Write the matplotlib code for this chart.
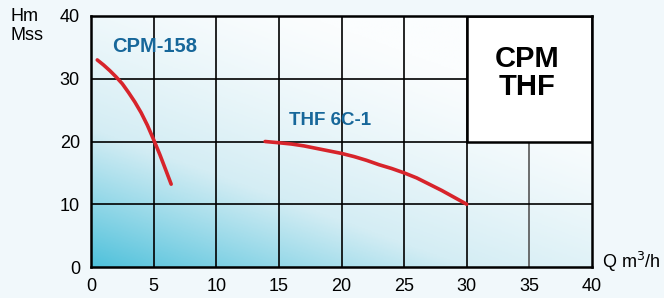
import numpy as np
import matplotlib.pyplot as plt
from matplotlib.colors import LinearSegmentedColormap
from matplotlib.patches import Rectangle

# pump curves (Q m3/h, Hm)
cpm_q = [0.5, 1.0, 1.5, 2.0, 2.5, 3.0, 3.5, 4.0, 4.5, 5.0, 5.5, 6.0, 6.4]
cpm_h = [33.0, 32.2, 31.3, 30.3, 29.2, 27.8, 26.3, 24.6, 22.6, 20.3, 17.9, 15.3, 13.2]
thf_q = [13.9, 15, 16, 17, 18, 19, 20, 21, 22, 23, 24, 25, 26, 27, 28, 29, 30]
thf_h = [20.0, 19.8, 19.6, 19.3, 18.9, 18.5, 18.1, 17.6, 17.0, 16.3, 15.7, 15.0,
         14.2, 13.2, 12.2, 11.1, 10.0]
x_ticks = [0, 5, 10, 15, 20, 25, 30, 35, 40]
y_ticks = [0, 10, 20, 30, 40]

plt.rcParams['font.family'] = ['Liberation Sans', 'DejaVu Sans']

fig = plt.figure(figsize=(6.64, 2.98), dpi=100, facecolor='#f1f8fb')
ax = fig.add_axes([91 / 664, 31 / 298, 501 / 664, 251 / 298])

# background gradient, cyan in the lower left fading to white
gx, gy = np.meshgrid(np.linspace(0, 1, 300), np.linspace(0, 1, 200))
t = np.clip(1 - (0.55 * gx + 0.75 * gy), 0, 1) ** 1.3
cmap = LinearSegmentedColormap.from_list('bg', ['#fbfdfe', '#d4edf4', '#4fc1db'])
ax.imshow(t, extent=[0, 40, 0, 40], origin='lower', cmap=cmap, vmin=0, vmax=1,
          aspect='auto', zorder=0)

# grid
for x in x_ticks[1:-1]:
    top = 20 if x == 35 else 40
    col = '#555555' if x == 35 else 'black'
    ax.plot([x, x], [0, top], color=col, lw=1.2, zorder=1)
for y in y_ticks[1:-1]:
    right = 30 if y == 30 else 40
    ax.plot([0, right], [y, y], color='black', lw=1.2, zorder=1)

# title box
ax.add_patch(Rectangle((30, 20), 10, 20, facecolor='white', edgecolor='black', lw=1.8, zorder=2))
ax.text(34.8, 30.9, 'CPM\nTHF', ha='center', va='center', fontsize=21, fontweight='bold',
        linespacing=1.0, zorder=3)

ax.plot(cpm_q, cpm_h, color='#d7242b', lw=2.6, solid_capstyle='round', zorder=4)
ax.plot(thf_q, thf_h, color='#d7242b', lw=2.6, solid_capstyle='round', zorder=4)
ax.text(5.1, 35.1, 'CPM-158', color='#17679a', fontsize=14.5, fontweight='bold',
        ha='center', va='center', zorder=4)
ax.text(19.1, 23.4, 'THF 6C-1', color='#17679a', fontsize=13.5, fontweight='bold',
        ha='center', va='center', zorder=4)

ax.set_xlim(0, 40)
ax.set_ylim(0, 40)
ax.set_xticks(x_ticks)
ax.set_yticks(y_ticks)
ax.tick_params(length=0, labelsize=13, pad=8)
for s in ax.spines.values():
    s.set_linewidth(1.8)
    s.set_zorder(5)

fig.text(10 / 664, 1 - 26 / 298, 'Hm\nMss', fontsize=13, ha='left', va='center', linespacing=1.1)
fig.text(602 / 664, 1 - 262 / 298, 'Q m$^3$/h', fontsize=13, ha='left', va='center')

fig.savefig('out.png', dpi=100, facecolor=fig.get_facecolor())
